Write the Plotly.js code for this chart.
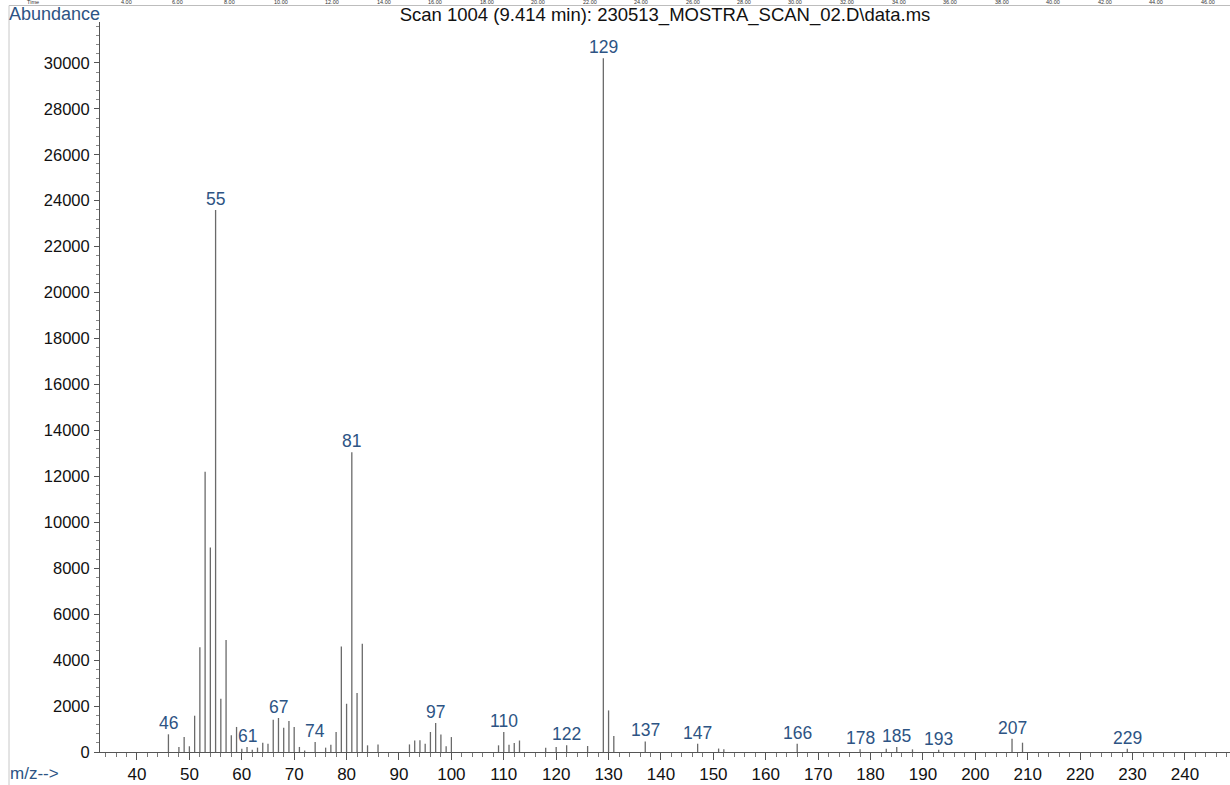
<!DOCTYPE html>
<html>
<head>
<meta charset="utf-8">
<script src="https://cdn.plot.ly/plotly-3.0.1.min.js"></script>
<style>
  html, body { margin: 0; padding: 0; background: #ffffff; }
  #chart { width: 1230px; height: 785px; }
</style>
</head>
<body>
<div id="chart"></div>
<script>
// ---- data ----
const mzValues = [46, 48, 49, 50, 51, 52, 53, 54, 55, 56, 57, 58, 59, 60, 61, 62, 63, 64, 65,
  66, 67, 68, 69, 70, 71, 72, 74, 76, 77, 78, 79, 80, 81, 82, 83, 84, 86, 92, 93, 94, 95,
  96, 97, 98, 99, 100, 109, 110, 111, 112, 113, 118, 120, 122, 126, 129, 130, 131, 137,
  147, 151, 152, 166, 178, 183, 185, 188, 193, 207, 209, 229];
const abundanceValues = [770, 220, 650, 250, 1580, 4560, 12200, 8900, 23600, 2320, 4880, 725, 1090, 145, 220, 100, 190, 400, 360,
  1400, 1480, 1060, 1350, 1090, 220, 70, 435, 190, 320, 870, 4590, 2100, 13050, 2570, 4710, 290, 330, 330, 500, 510, 360,
  870, 1260, 760, 250, 650, 290, 870, 320, 390, 500, 190, 220, 290, 260, 30200, 1810, 700, 460,
  360, 150, 120, 360, 120, 145, 220, 115, 100, 580, 405, 145];
const labelledPeaks = [46, 55, 61, 67, 74, 81, 97, 110, 122, 129, 137, 147, 166, 178, 185, 193, 207, 229];
const timeTickLabels = ["4.00", "6.00", "8.00", "10.00", "12.00", "14.00", "16.00", "18.00", "20.00", "22.00",
  "24.00", "26.00", "28.00", "30.00", "32.00", "34.00", "36.00", "38.00", "40.00", "42.00", "44.00", "46.00"];
const titleText = "Scan 1004 (9.414 min): 230513_MOSTRA_SCAN_02.D\\data.ms";

// ---- build stick spectrum ----
const sx = [], sy = [];
mzValues.forEach((m, i) => { sx.push(m, m, null); sy.push(0, abundanceValues[i], null); });

const FONT = "Liberation Sans, Arial, Helvetica, sans-serif";
const BLUE = "#2d5484";

// plot area geometry (pixels)
const L = 100, R = 1230, T = 22, B = 752;
const px2paperX = p => (p - L) / (R - L);
const px2paperY = p => (B - p) / (B - T);

const annotations = [];
labelledPeaks.forEach(m => {
  const v = abundanceValues[mzValues.indexOf(m)];
  annotations.push({
    x: m, y: v, xref: "x", yref: "y", text: String(m), showarrow: false,
    yanchor: "bottom", xanchor: "center", yshift: -1,
    font: { family: FONT, size: 17.5, color: BLUE }
  });
});
annotations.push({
  x: px2paperX(7), y: px2paperY(14), xref: "paper", yref: "paper", text: "Abundance",
  showarrow: false, xanchor: "left", yanchor: "middle",
  font: { family: FONT, size: 18, color: BLUE }
});
annotations.push({
  x: px2paperX(8), y: px2paperY(773), xref: "paper", yref: "paper", text: "m/z-->",
  showarrow: false, xanchor: "left", yanchor: "middle",
  font: { family: FONT, size: 17, color: BLUE }
});
// small time strip along the top edge
annotations.push({
  x: px2paperX(33), y: px2paperY(2), xref: "paper", yref: "paper", text: "Time",
  showarrow: false, xanchor: "center", yanchor: "middle", borderpad: 0,
  font: { family: FONT, size: 5.5, color: "#333" }
});
timeTickLabels.forEach((t, i) => {
  annotations.push({
    x: px2paperX(126 + i * 51.5), y: px2paperY(2), xref: "paper", yref: "paper", text: t,
    showarrow: false, xanchor: "center", yanchor: "middle", borderpad: 0,
    font: { family: FONT, size: 5.5, color: "#333" }
  });
});

const trace = {
  x: sx, y: sy, type: "scatter", mode: "lines",
  line: { color: "#6a6a6a", width: 1.3 },
  hoverinfo: "skip", showlegend: false, connectgaps: false
};

const layout = {
  width: 1230, height: 785,
  margin: { l: L, r: 1230 - R, t: T, b: 785 - B, pad: 0 },
  paper_bgcolor: "#ffffff", plot_bgcolor: "#ffffff",
  showlegend: false,
  title: {
    text: titleText, x: 0.5, xref: "paper", xanchor: "center",
    y: 1 - 14.5 / 785, yref: "container", yanchor: "middle",
    font: { family: FONT, size: 18.5, color: "#111" }
  },
  xaxis: {
    range: [32.94, 248.6], showgrid: false, zeroline: false,
    showline: true, linecolor: "#555", linewidth: 1,
    ticks: "outside", ticklen: 7, tickcolor: "#555", tickwidth: 1,
    dtick: 10, tick0: 0,
    minor: { dtick: 2, tick0: 0, ticks: "outside", ticklen: 4, tickcolor: "#777", showgrid: false },
    tickfont: { family: FONT, size: 17, color: "#111" },
    fixedrange: true
  },
  yaxis: {
    range: [0, 31780], showgrid: false, zeroline: false,
    showline: true, linecolor: "#555", linewidth: 1,
    ticks: "outside", ticklen: 5, tickcolor: "#555", tickwidth: 1,
    dtick: 2000, tick0: 0, tickformat: "d",
    minor: { dtick: 400, tick0: 0, ticks: "outside", ticklen: 3, tickcolor: "#888", showgrid: false },
    tickfont: { family: FONT, size: 16.5, color: "#111" },
    ticklabelstandoff: 1,
    fixedrange: true
  },
  shapes: [
    { type: "line", xref: "paper", yref: "paper", x0: px2paperX(9), x1: px2paperX(1240), y0: px2paperY(5.5), y1: px2paperY(5.5),
      line: { color: "#bdbdbd", width: 1 } },
    { type: "line", xref: "paper", yref: "paper", x0: px2paperX(9), x1: px2paperX(9), y0: px2paperY(5.5), y1: px2paperY(800),
      line: { color: "#c8c8c8", width: 1 } }
  ],
  annotations: annotations
};

Plotly.newPlot("chart", [trace], layout, { displayModeBar: false, staticPlot: true });
</script>
</body>
</html>
